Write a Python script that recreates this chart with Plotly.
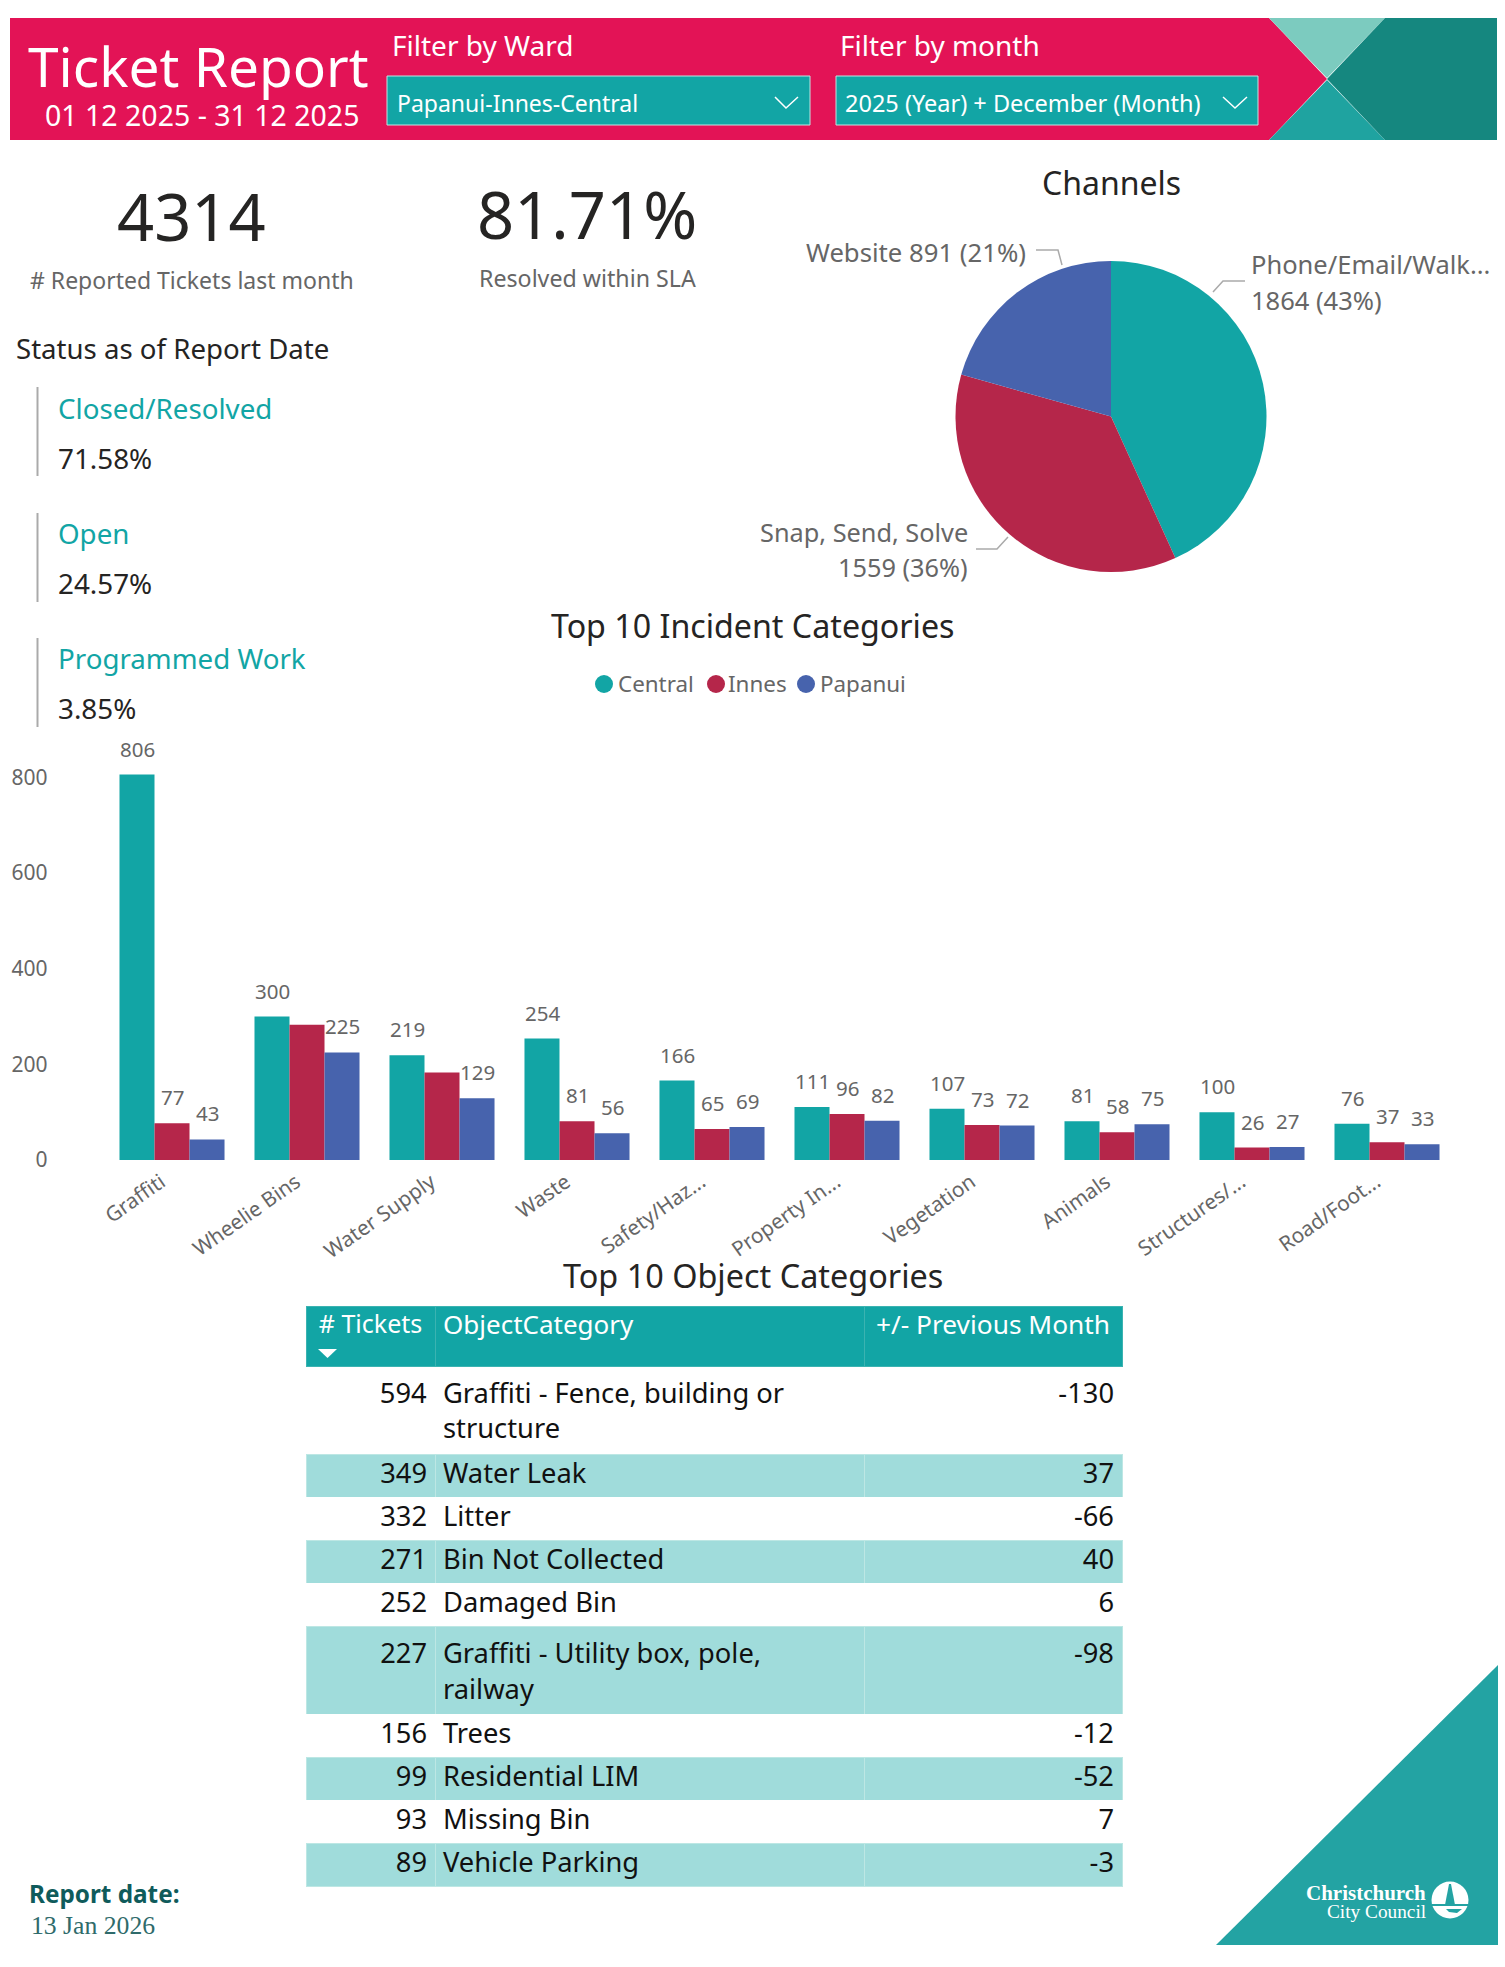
import plotly.graph_objects as go

W = 1505
H = 1967
FONT = 'Noto Sans'

TEAL = '#12A5A5'
CRIMSON = '#B5264A'
BLUE = '#4763AD'
GREY = '#666666'

# bar chart data
incident_categories = ['Graffiti', 'Wheelie Bins', 'Water Supply', 'Waste', 'Safety/Haz...',
                       'Property In...', 'Vegetation', 'Animals', 'Structures/...', 'Road/Foot...']
central = [806, 300, 219, 254, 166, 111, 107, 81, 100, 76]
innes = [77, 283, 183, 81, 65, 96, 73, 58, 26, 37]
papanui = [43, 225, 129, 56, 69, 82, 72, 75, 27, 33]
# labels the original report drops because they collide
central_labels = ['806', '300', '219', '254', '166', '111', '107', '81', '100', '76']
innes_labels = ['77', '', '', '81', '65', '96', '73', '58', '26', '37']
papanui_labels = ['43', '225', '129', '56', '69', '82', '72', '75', '27', '33']
y_ticks = [0, 200, 400, 600, 800]

# pie data
channel_labels = ['Phone/Email/Walk...', 'Snap, Send, Solve', 'Website']
channel_values = [1864, 1559, 891]
channel_pct = [43, 36, 21]

# table data
tickets = ['594<br>&nbsp;', 349, 332, 271, 252, '227<br>&nbsp;', 156, 99, 93, 89]
object_categories = ['Graffiti - Fence, building or<br>structure', 'Water Leak', 'Litter',
                     'Bin Not Collected', 'Damaged Bin', 'Graffiti - Utility box, pole,<br>railway',
                     'Trees', 'Residential LIM', 'Missing Bin', 'Vehicle Parking']
prev_month = ['-130<br>&nbsp;', 37, -66, 40, 6, '-98<br>&nbsp;', -12, -52, 7, -3]

# status cards
status_names = ['Closed/Resolved', 'Open', 'Programmed Work']
status_values = ['71.58%', '24.57%', '3.85%']


def px(x):
    return x / W


def py(y):
    return 1 - y / H


def poly(points, color, layer='below'):
    path = 'M ' + ' L '.join(f'{px(x)} {py(y)}' for x, y in points) + ' Z'
    return dict(type='path', xref='paper', yref='paper', path=path,
                fillcolor=color, line=dict(width=0), layer=layer)


def polyline(points, color, width=1.5):
    path = 'M ' + ' L '.join(f'{px(x)} {py(y)}' for x, y in points)
    return dict(type='path', xref='paper', yref='paper', path=path,
                line=dict(color=color, width=width))


def box(x0, y0, x1, y1, color, line=None):
    return dict(type='rect', xref='paper', yref='paper', x0=px(x0), x1=px(x1), y0=py(y0), y1=py(y1),
                fillcolor=color, line=dict(width=1 if line else 0, color=line or color), layer='below')


def dot(cx, cy, r, color):
    return dict(type='circle', xref='paper', yref='paper', x0=px(cx - r), x1=px(cx + r),
                y0=py(cy + r), y1=py(cy - r), fillcolor=color, line=dict(width=0), layer='below')


def label(x, y, text, size, color='#252423', anchor='left', family=FONT):
    return dict(xref='paper', yref='paper', x=px(x), y=py(y), text=text, showarrow=False,
                xanchor=anchor, yanchor='middle', borderpad=0,
                font=dict(family=family, size=size, color=color))


fig = go.Figure()

annotations = []
for vals, labels_, color, shift in [(central, central_labels, TEAL, -35),
                                    (innes, innes_labels, CRIMSON, 0),
                                    (papanui, papanui_labels, BLUE, 35)]:
    fig.add_trace(go.Bar(x=incident_categories, y=vals, marker=dict(color=color, line_width=0),
                         showlegend=False))
    # value labels sit higher above the bars than textposition='outside' allows
    for cat, val, lab in zip(incident_categories, vals, labels_):
        if lab:
            annotations.append(dict(x=cat, y=val, xref='x', yref='y', text=lab, showarrow=False,
                                    xshift=shift, yshift=26, xanchor='center', yanchor='middle',
                                    font=dict(family=FONT, size=20.5, color=GREY)))

fig.add_trace(go.Pie(labels=channel_labels, values=channel_values, sort=False, direction='clockwise',
                     rotation=0, textinfo='none', showlegend=False,
                     marker=dict(colors=[TEAL, CRIMSON, BLUE], line=dict(width=0)),
                     domain=dict(x=[px(955), px(1267)], y=[py(572), py(261)])))

row_fill = ['#FFFFFF' if i % 2 == 0 else '#A0DCDB' for i in range(len(tickets))]
row_line = ['#FFFFFF' if i % 2 == 0 else '#BDE7E4' for i in range(len(tickets))]
fig.add_trace(go.Table(
    domain=dict(x=[px(306), px(1122)], y=[py(1900), py(1306)]),
    columnwidth=[129, 429, 258],
    header=dict(values=['# Tickets', 'ObjectCategory', '+/- Previous Month'],
                align=['center', 'left', 'center'], height=60,
                fill_color=TEAL, line=dict(color='#3BB3B1', width=1),
                font=dict(family=FONT, size=[25, 26, 26.3], color='white')),
    cells=dict(values=[tickets, object_categories, prev_month],
               align=['right', 'left', 'right'], height=43,
               fill_color=[row_fill] * 3, line=dict(color=[row_line] * 3, width=1),
               font=dict(family=FONT, size=27.3, color='#111111')),
))

shapes = [
    # header band
    poly([(10, 18), (1269, 18), (1327, 79), (1269, 140), (10, 140)], '#E31356'),
    poly([(1269, 18), (1385, 18), (1327, 78)], '#7CCBBF'),
    poly([(1269, 140), (1385, 140), (1327, 80)], '#1FA3A0'),
    poly([(1385, 18), (1497, 18), (1497, 140), (1385, 140), (1327, 79)], '#15877F'),
    box(387, 76, 810, 125, TEAL, '#BFE4E1'),
    box(836, 76, 1258, 125, TEAL, '#BFE4E1'),
    polyline([(775, 97), (786, 108), (798, 97)], 'white'),
    polyline([(1223, 97), (1235, 108), (1247, 97)], 'white'),
    # status bars
    box(36.5, 387, 38.5, 476, '#AAAAAA'),
    box(36.5, 513, 38.5, 602, '#AAAAAA'),
    box(36.5, 638, 38.5, 727, '#AAAAAA'),
    # pie leader lines
    polyline([(1036, 250), (1058, 250), (1062, 265)], '#AAAAAA'),
    polyline([(1245, 281), (1223, 281), (1213, 292)], '#AAAAAA'),
    polyline([(976, 549), (997, 549), (1008, 537)], '#AAAAAA'),
    # legend markers
    dot(604, 684, 9, TEAL),
    dot(716, 684, 9, CRIMSON),
    dot(806, 684, 9, BLUE),
    # sort arrow in the table header
    dict(type='path', xref='paper', yref='paper', line=dict(width=0), fillcolor='white', layer='above',
         path=f'M {px(318)} {py(1349)} L {px(337)} {py(1349)} L {px(327.5)} {py(1358)} Z'),
    # corner triangle and council logo
    poly([(1498, 1665), (1498, 1945), (1216, 1945)], '#23A3A3'),
    dot(1450, 1900, 18.5, 'white'),
    poly([(1449, 1884), (1445, 1905), (1455, 1905), (1451, 1884)], '#23A3A3'),
    poly([(1432, 1904), (1468, 1904), (1468, 1906), (1432, 1906)], '#23A3A3'),
    poly([(1446, 1909), (1462, 1909), (1457, 1913), (1449, 1912)], '#23A3A3'),
]

annotations += [
    label(27, 66, 'Ticket Report', 55, 'white'),
    label(44, 115, '01 12 2025 - 31 12 2025', 28.5, 'white'),
    label(391, 45, 'Filter by Ward', 28, 'white'),
    label(839, 45, 'Filter by month', 28, 'white'),
    label(396, 103, 'Papanui-Innes-Central', 23, 'white'),
    label(844, 103, '2025 (Year) + December (Month)', 23.5, 'white'),
    label(191, 216, f'{sum(channel_values)}', 65, anchor='center'),
    label(192, 280, '# Reported Tickets last month', 23, GREY, anchor='center'),
    label(587, 214, '81.71%', 65, anchor='center'),
    label(587, 278, 'Resolved within SLA', 23.2, GREY, anchor='center'),
    label(1111, 183, 'Channels', 32, anchor='center'),
    label(15, 348, 'Status as of Report Date', 27.6),
    label(752, 625, 'Top 10 Incident Categories', 32.2, anchor='center'),
    label(753, 1275, 'Top 10 Object Categories', 32.4, anchor='center'),
    label(1027, 253, f'{channel_labels[2]} {channel_values[2]} ({channel_pct[2]}%)', 25.7, GREY, anchor='right'),
    label(1250, 264, channel_labels[0], 25.5, GREY),
    label(1250, 300, f'{channel_values[0]} ({channel_pct[0]}%)', 25.5, GREY),
    label(969, 532, channel_labels[1], 25.3, GREY, anchor='right'),
    label(969, 567, f'{channel_values[1]} ({channel_pct[1]}%)', 25.3, GREY, anchor='right'),
    label(617, 683, 'Central', 22.4, GREY),
    label(727, 683, 'Innes', 22.4, GREY),
    label(819, 683, 'Papanui', 22.4, GREY),
    label(28, 1893, '<b>Report date:</b>', 24.3, '#0F5B5B'),
    label(30, 1925, '13 Jan 2026', 25.7, '#2F6B6B', family='Liberation Serif'),
    label(1427, 1893, '<b>Christchurch</b>', 21, 'white', anchor='right', family='Liberation Serif'),
    label(1427, 1911, 'City Council', 19.3, 'white', anchor='right', family='Liberation Serif'),
]

for i, name in enumerate(status_names):
    annotations.append(label(57, 408 + 125 * i, name, 27.7, TEAL))
    annotations.append(label(57, 458 + 125 * i, status_values[i], 27.8))

fig.update_layout(
    width=W, height=H, margin=dict(l=0, r=0, t=0, b=0, pad=0),
    paper_bgcolor='white', plot_bgcolor='white',
    font=dict(family=FONT, color=GREY),
    barmode='group', bargap=0.222, bargroupgap=0, showlegend=False,
    shapes=shapes, annotations=annotations,
    # template turns automargin on, which squeezes the paper area
    xaxis=dict(domain=[px(104.5), px(1454.5)], type='category', categoryorder='array', automargin=False,
               categoryarray=incident_categories, range=[-0.5, 9.5], tickangle=-35, showgrid=False,
               zeroline=False, showline=False, ticks='', ticklabelstandoff=5, ticklabelshift=-11,
               tickfont=dict(family=FONT, size=20.8, color=GREY)),
    yaxis=dict(domain=[py(1160), py(733)], range=[0, 893], tickmode='array', tickvals=y_ticks, automargin=False,
               showgrid=False, zeroline=False, showline=False, ticks='', ticklabelstandoff=56,
               tickfont=dict(family=FONT, size=21, color=GREY)),
)

fig.write_html('out.html', config={'displayModeBar': False},
               post_script="document.body.style.margin='0';")
